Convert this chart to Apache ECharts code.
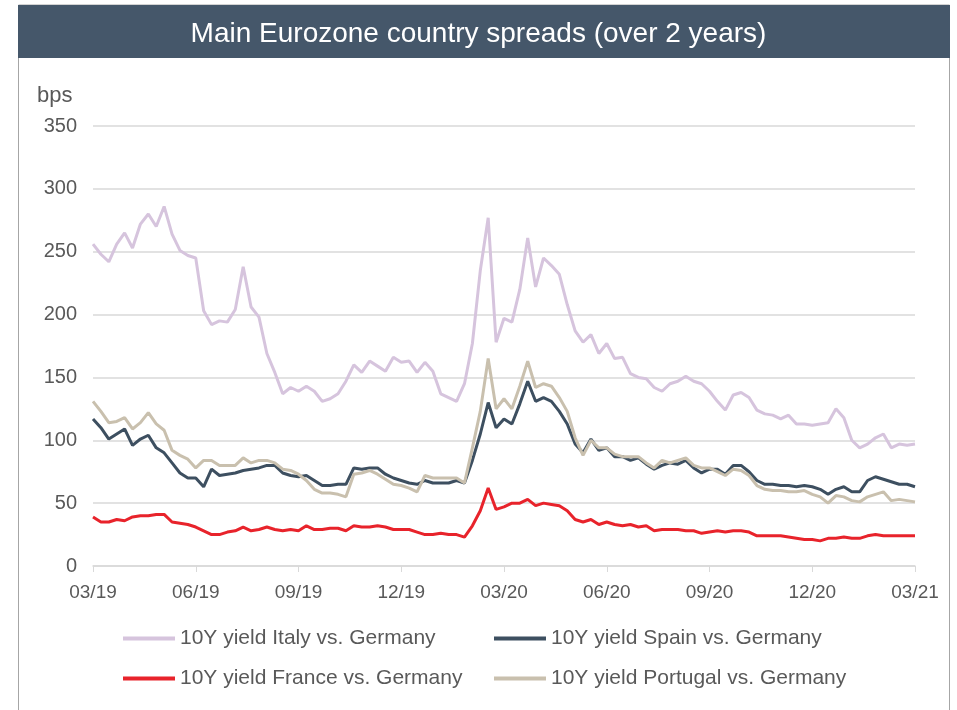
<!DOCTYPE html>
<html>
<head>
<meta charset="utf-8">
<script src="https://cdn.jsdelivr.net/npm/echarts@6/dist/echarts.min.js"></script>
<style>
  html, body { margin: 0; padding: 0; background: #fff; }
  #chart { width: 957px; height: 710px; }
</style>
</head>
<body>
<div id="chart"></div>
<script>
// weekly readings, week 0 = start of 03/19, week 104 = 03/21
const tickLabels = ['03/19', '06/19', '09/19', '12/19', '03/20', '06/20', '09/20', '12/20', '03/21'];
const seriesNames = [
    '10Y yield Italy vs. Germany',
    '10Y yield Spain vs. Germany',
    '10Y yield France vs. Germany',
    '10Y yield Portugal vs. Germany'
];

const italy = [
    256, 248, 242, 256, 265, 253, 272, 280, 270, 286, 264, 251, 247, 245, 203, 192, 195, 194, 204, 238, 206, 198, 169, 154, 137, 142, 139,
    143, 139, 131, 133, 137, 147, 160, 154, 163, 159, 155, 166, 162, 163, 154, 162, 155, 137, 134, 131, 145, 177, 235, 277, 178, 197,
    194, 220, 261, 222, 245, 239, 232, 208, 187, 178, 184, 169, 177, 165, 166, 153, 150, 149, 142, 139, 145, 147, 151, 147, 145, 139,
    131, 124, 136, 138, 134, 124, 121, 120, 117, 120, 113, 113, 112, 113, 114, 125, 118, 100, 94, 97, 102, 105, 94, 97, 96, 97
];
const spain = [
    117, 110, 101, 105, 109, 96, 101, 104, 94, 90, 82, 74, 70, 70, 63, 77, 72, 73, 74, 76, 77, 78, 80, 80, 74, 72, 71,
    72, 68, 64, 64, 65, 65, 78, 77, 78, 78, 73, 70, 68, 66, 65, 68, 66, 66, 66, 68, 66, 84, 105, 130, 110, 117,
    113, 129, 147, 131, 134, 131, 123, 113, 97, 90, 101, 92, 94, 87, 87, 84, 86, 81, 77, 80, 82, 81, 84, 78, 74, 77,
    77, 73, 80, 80, 75, 68, 65, 65, 64, 64, 63, 64, 63, 61, 57, 61, 63, 59, 59, 68, 71, 69, 67, 65, 65, 63
];
const france = [
    39, 35, 35, 37, 36, 39, 40, 40, 41, 41, 35, 34, 33, 31, 28, 25, 25, 27, 28, 31, 28, 29, 31, 29, 28, 29, 28,
    32, 29, 29, 30, 30, 28, 32, 31, 31, 32, 31, 29, 29, 29, 27, 25, 25, 26, 25, 25, 23, 32, 44, 62, 45, 47,
    50, 50, 53, 48, 50, 49, 48, 44, 37, 35, 37, 33, 35, 33, 32, 33, 31, 32, 28, 29, 29, 29, 28, 28, 26, 27,
    28, 27, 28, 28, 27, 24, 24, 24, 24, 23, 22, 21, 21, 20, 22, 22, 23, 22, 22, 24, 25, 24, 24, 24, 24, 24
];
const portugal = [
    131, 123, 114, 115, 118, 109, 114, 122, 113, 108, 92, 88, 85, 78, 84, 84, 80, 80, 80, 86, 82, 84, 84, 82, 77, 76, 73,
    68, 61, 58, 58, 57, 55, 73, 74, 76, 73, 69, 65, 64, 62, 59, 72, 70, 70, 70, 70, 66, 94, 123, 165, 125, 133,
    125, 143, 163, 142, 145, 143, 134, 123, 102, 88, 100, 94, 94, 89, 87, 87, 87, 82, 78, 84, 82, 84, 86, 80, 78, 78,
    75, 72, 77, 76, 72, 64, 61, 60, 60, 59, 59, 60, 57, 55, 50, 56, 55, 52, 51, 55, 57, 59, 52, 53, 52, 51
];

const colors = ['#d6c4dd', '#3d4f60', '#e8232b', '#c9c0ae'];
const FONT = '"Liberation Sans", Arial, sans-serif';
const TXT = '#595959';

function toPoints(arr) {
    return arr.map((v, i) => [i, v]);
}

const chart = echarts.init(document.getElementById('chart'));

const legendPos = [
    { left: 123, top: 628 },
    { left: 494, top: 628 },
    { left: 123, top: 668 },
    { left: 494, top: 668 }
];

chart.setOption({
    animation: false,
    color: colors,
    textStyle: { fontFamily: FONT },
    title: {
        text: 'Main Eurozone country spreads (over 2 years)',
        left: 'center',
        top: 15,
        textStyle: { color: '#fff', fontSize: 28, fontWeight: 'normal', fontFamily: FONT }
    },
    graphic: [
        {
            type: 'rect', z: -10,
            shape: { x: 18.5, y: 5, width: 931, height: 730 },
            style: { fill: 'none', stroke: '#a6a6a6', lineWidth: 1 }
        },
        {
            type: 'rect', z: -5,
            shape: { x: 18, y: 5, width: 932, height: 53 },
            style: { fill: '#45576a' }
        },
        {
            type: 'text', left: 37, top: 85,
            style: { text: 'bps', fill: TXT, font: '22px ' + FONT }
        }
    ],
    legend: seriesNames.map((name, i) => ({
        data: [name],
        left: legendPos[i].left,
        top: legendPos[i].top,
        padding: 0,
        icon: 'rect',
        itemWidth: 52,
        itemHeight: 4,
        textStyle: { color: TXT, fontSize: 21, fontFamily: FONT },
        selectedMode: false
    })),
    grid: { left: 93, right: 42, top: 126, bottom: 144 },
    xAxis: {
        type: 'value',
        min: 0,
        max: 104,
        interval: 13,
        splitLine: { show: false },
        axisLine: { lineStyle: { color: '#d9d9d9', width: 1.5 } },
        axisTick: { show: true, length: 6, lineStyle: { color: '#d9d9d9' } },
        axisLabel: {
            color: TXT, fontSize: 19, margin: 17,
            formatter: v => tickLabels[Math.round(v / 13)]
        }
    },
    yAxis: {
        type: 'value',
        min: 0,
        max: 350,
        interval: 50,
        axisLine: { show: false },
        axisTick: { show: false },
        splitLine: { lineStyle: { color: '#d9d9d9', width: 1.5 } },
        axisLabel: { color: TXT, fontSize: 20, margin: 16 }
    },
    series: [italy, spain, france, portugal].map((arr, i) => ({
        name: seriesNames[i],
        type: 'line',
        data: toPoints(arr),
        symbol: 'none',
        lineStyle: { width: 3, color: colors[i] },
        itemStyle: { color: colors[i] }
    }))
});
</script>
</body>
</html>
